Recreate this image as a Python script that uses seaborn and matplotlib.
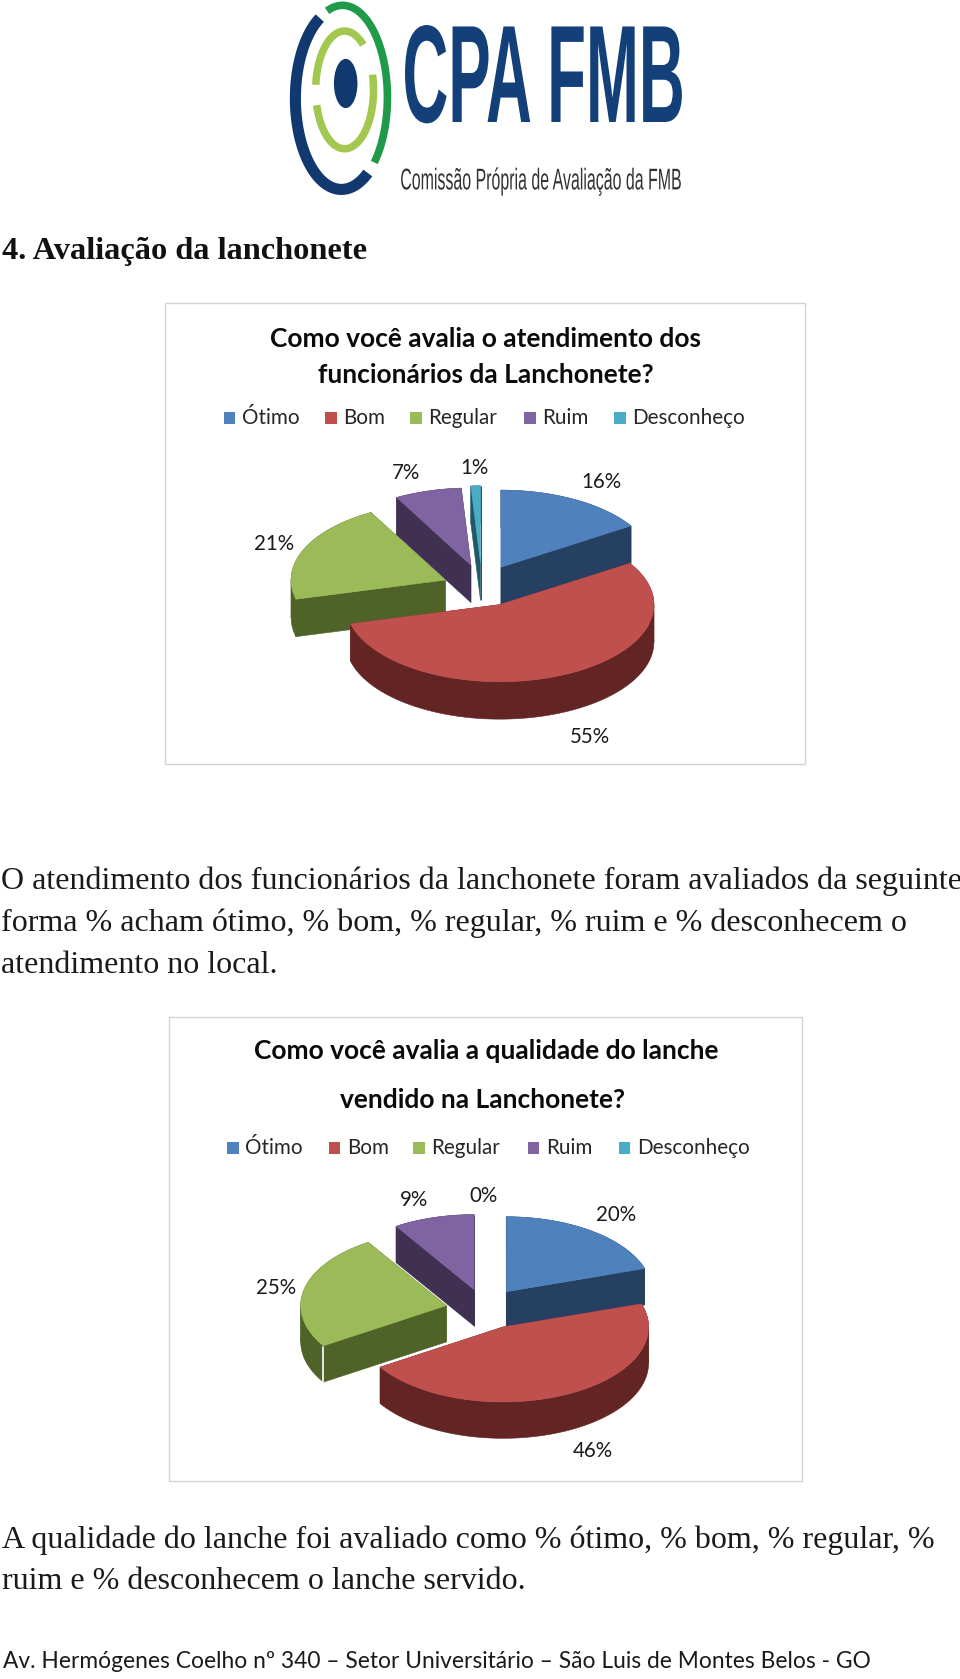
import numpy as np
import matplotlib
matplotlib.use("Agg")
import matplotlib.pyplot as plt
import seaborn as sns
from matplotlib.patches import Polygon, Rectangle, Ellipse
from matplotlib.patheffects import AbstractPathEffect
from matplotlib.transforms import Affine2D

# ---------- data ----------
categorias = ["Ótimo", "Bom", "Regular", "Ruim", "Desconheço"]
atendimento = [16, 55, 21, 7, 1]
lanche = [20, 46, 25, 9, 0]
titulo_atendimento = ["Como você avalia o atendimento dos", "funcionários da Lanchonete?"]
titulo_lanche = ["Como você avalia a qualidade do lanche", "vendido na Lanchonete?"]
texto_1 = ["O atendimento dos funcionários da lanchonete foram avaliados da seguinte",
           "forma % acham ótimo, % bom, % regular, % ruim e % desconhecem o",
           "atendimento no local."]
texto_2 = ["A qualidade do lanche foi avaliado como % ótimo, % bom, % regular, %",
           "ruim e % desconhecem o lanche servido."]
cabecalho = "4. Avaliação da lanchonete"
rodape = "Av. Hermógenes Coelho nº 340 – Setor Universitário – São Luis de Montes Belos - GO"

# ---------- style ----------
sns.set_theme(style="white")
plt.rcParams["font.family"] = ["Lato", "DejaVu Sans"]
topo = sns.color_palette(["#4F81BD", "#C0504D", "#9BBB59", "#8064A2", "#4BACC6"])
lado = sns.color_palette(["#254061", "#632523", "#4F6228", "#403152", "#205867"])
SERIF = ["Liberation Serif", "DejaVu Serif"]
NARROW = ["Liberation Sans Narrow", "Liberation Sans"]

fig = plt.figure(figsize=(9.6, 16.79), dpi=100, facecolor="white")
ax = fig.add_axes([0, 0, 1, 1])
ax.set_xlim(0, 897)
ax.set_ylim(1568.9, 0)
ax.axis("off")


class Stretch(AbstractPathEffect):
    """Scale a text's outline about its anchor (condensed logo lettering)."""
    def __init__(self, sx, sy, anchor):
        super().__init__()
        self.sx, self.sy, self.anchor = sx, sy, anchor

    def draw_path(self, renderer, gc, tpath, affine, rgbFace=None):
        x0, y0 = ax.transData.transform(self.anchor)
        t = affine + Affine2D().translate(-x0, -y0).scale(self.sx, self.sy).translate(x0, y0)
        renderer.draw_path(gc, tpath, t, rgbFace)


def arc_line(cx, cy, rx, ry, t0, t1, color, lw):
    t = np.radians(np.linspace(t0, t1, 80))
    ax.plot(cx + rx * np.cos(t), cy - ry * np.sin(t), color=color, lw=lw,
            solid_capstyle="butt", zorder=3)


def pie3d(valores, centros, rx, ry, prof, costura=None, ordem=(4, 3, 2, 0, 1)):
    bordas = np.concatenate([[0], np.cumsum(valores)]) / np.sum(valores) * 2 * np.pi
    for i in ordem:
        if valores[i] == 0:
            continue
        cx, cy = centros[i]
        a0, a1 = bordas[i], bordas[i + 1]
        # the rim is split where the ellipse turns back in x, so no strip folds over itself
        cortes = [a0] + [e for e in (np.pi / 2, 3 * np.pi / 2) if a0 < e < a1] + [a1]
        for s0, s1 in zip(cortes[:-1], cortes[1:]):
            a = np.linspace(s0, s1, 80)
            arco = np.column_stack([cx + rx * np.sin(a), cy - ry * np.cos(a)])
            faixa = np.vstack([arco, arco[::-1] + [0, prof]])
            ax.add_patch(Polygon(faixa, closed=True, fc=lado[i], ec=lado[i], lw=0.4, zorder=4))
        a = np.linspace(a0, a1, 160)
        arco = np.column_stack([cx + rx * np.sin(a), cy - ry * np.cos(a)])
        c = np.array([cx, cy], dtype=float)
        for p in (arco[0], arco[-1]):
            quad = [c, p, p + [0, prof], c + [0, prof]]
            ax.add_patch(Polygon(quad, closed=True, fc=lado[i], ec=lado[i], lw=0.4, zorder=4))
        ax.add_patch(Polygon(np.vstack([c, arco]), closed=True, fc=topo[i], ec=topo[i], lw=0.4, zorder=4))
        if costura == i:
            ax.plot([arco[0][0]] * 2, [arco[0][1] + 1, arco[0][1] + prof],
                    color="white", lw=1.2, zorder=4)


def grafico(caixa, titulo, tit_x, tit_y, leg_x, leg_y, valores, centros, rx, ry, prof, rotulos, costura=None):
    x0, y0, x1, y1 = caixa
    ax.add_patch(Rectangle((x0, y0), x1 - x0, y1 - y0, fc="white", ec="#D4D4D4", lw=1.0, zorder=1))
    for linha, x, y in zip(titulo, tit_x, tit_y):
        ax.text(x, y, linha, ha="center", va="center",
                fontsize=19.0, fontweight="bold", color="#0A0A0A", zorder=5)
    for i, (nome, x) in enumerate(zip(categorias, leg_x)):
        ax.add_patch(Rectangle((x - 6, leg_y - 6), 11, 11, fc=topo[i], ec="none", zorder=5))
        ax.text(x + 11, leg_y, nome, ha="left", va="center", fontsize=14.9,
                color="#262626", zorder=5)
    pie3d(valores, centros, rx, ry, prof, costura)
    for v, (x, y) in zip(valores, rotulos):
        ax.text(x, y, f"{v}%", ha="center", va="center", fontsize=14.8, color="#1A1A1A", zorder=5)


# ---------- logo ----------
AZUL = "#12396F"
arc_line(319, 92, 43, 85, 118, 305, AZUL, 8)
arc_line(320, 91, 42, 86, -45, 110, "#1E9A48", 5.5)
arc_line(322, 84, 27, 55, 50, 175, "#A2C84F", 5.4)
arc_line(322, 84, 27, 55, 195, 375, "#A2C84F", 5.4)
ax.add_patch(Ellipse((323, 78), 22, 46, fc=AZUL, ec="none", zorder=3))
ax.text(376, 114, "CPA FMB", fontsize=50, fontweight="bold", family=NARROW, color="#14407A",
        ha="left", va="baseline", zorder=3, path_effects=[Stretch(0.915, 2.0, (376, 114))])
ax.text(374, 177, "Comissão Própria de Avaliação da FMB", fontsize=13.5, family=NARROW,
        color="#333333", ha="left", va="baseline", zorder=3,
        path_effects=[Stretch(0.85, 1.6, (374, 177))])

# ---------- page text ----------
ax.text(2, 235, cabecalho, family=SERIF, fontweight="bold", fontsize=23.3, va="center", color="#111111")
for linha, y in zip(texto_1, [823, 863, 902]):
    ax.text(1, y, linha, family=SERIF, fontsize=23.05, va="center", color="#1A1A1A")
for linha, y in zip(texto_2, [1439, 1478]):
    ax.text(2, y, linha, family=SERIF, fontsize=23.05, va="center", color="#1A1A1A")
ax.text(3, 1553, rodape, fontsize=16.35, va="center", color="#1A1A1A")

# ---------- charts ----------
grafico((154, 283, 752, 714), titulo_atendimento, [454, 454], [317, 350], [215, 310, 389, 496, 580], 391,
        atendimento,
        [(468, 530), (467, 565), (416, 542), (440, 528), (449, 526)], 144, 72, 35,
        [(562, 450), (551, 689), (256, 508), (379, 442), (443, 437)])
grafico((158, 950, 749, 1384), titulo_lanche, [454, 451], [982, 1028], [218, 313, 392, 499, 584], 1073,
        lanche,
        [(473, 1207), (470, 1240), (417, 1220), (443, 1205), (443, 1205)], 136, 70, 34,
        [(576, 1135), (554, 1356), (258, 1204), (387, 1121), (452, 1118)], costura=2)

fig.savefig("out.png", dpi=100, facecolor="white")
